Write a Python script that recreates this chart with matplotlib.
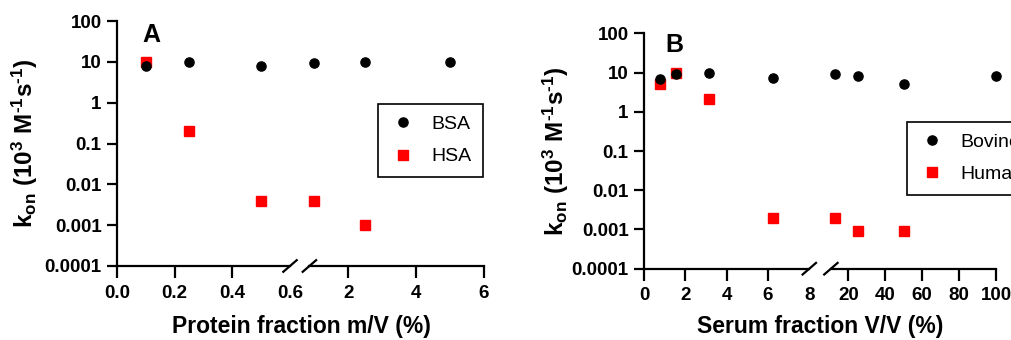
import matplotlib
matplotlib.use('Agg')
import matplotlib.pyplot as plt
from matplotlib.ticker import FixedLocator, FixedFormatter, NullLocator

plt.rcParams['font.family'] = ['Liberation Sans', 'DejaVu Sans']
plt.rcParams['mathtext.fontset'] = 'custom'
plt.rcParams['mathtext.rm'] = 'Liberation Sans:bold'
plt.rcParams['mathtext.bf'] = 'Liberation Sans:bold'
plt.rcParams['mathtext.it'] = 'Liberation Sans:bold'

# panel A: protein fraction m/V (%)
protein_x = [0.1, 0.25, 0.5, 1.0, 2.5, 5.0]
bsa = [8, 10, 8, 9.5, 10, 10]
hsa_x = [0.1, 0.25, 0.5, 1.0, 2.5]
hsa = [10, 0.2, 0.004, 0.004, 0.001]

# panel B: serum fraction V/V (%)
serum_x = [0.78, 1.56, 3.125, 6.25, 12.5, 25, 50, 100]
bovine = [7, 9, 10, 7.3, 9, 8, 5, 8]
human_x = [0.78, 1.56, 3.125, 6.25, 12.5, 25, 50]
human = [5, 10, 2.1, 0.002, 0.002, 0.0009, 0.0009]

y_ticks = [1e-4, 1e-3, 1e-2, 1e-1, 1, 10, 100]
y_labels = ['0.0001', '0.001', '0.01', '0.1', '1', '10', '100']

W, H = 1012, 340
fig = plt.figure(figsize=(W / 100, H / 100), dpi=100)


def px_axes(x0, x1, ytop, ybot):
    return fig.add_axes([x0 / W, (H - ybot) / H, (x1 - x0) / W, (ybot - ytop) / H])


def style(ax, first):
    ax.set_yscale('log')
    ax.set_ylim(1e-4, 100)
    for s in ['top', 'right']:
        ax.spines[s].set_visible(False)
    ax.spines['bottom'].set_linewidth(1.6)
    ax.spines['left'].set_linewidth(1.6)
    ax.tick_params(axis='x', length=8.5, width=1.6, pad=5, labelsize=13.5)
    ax.tick_params(axis='y', length=7, width=1.6, pad=4, labelsize=13.5)
    ax.yaxis.set_major_locator(FixedLocator(y_ticks))
    ax.yaxis.set_major_formatter(FixedFormatter(y_labels))
    ax.yaxis.set_minor_locator(NullLocator())
    for lab in ax.get_yticklabels():
        lab.set_fontweight('bold')
    if not first:
        ax.spines['left'].set_visible(False)
        ax.tick_params(axis='y', left=False, labelleft=False)
    ax.patch.set_alpha(0)


def slash(ax, xa):
    bb = ax.get_position()
    dx = 6.7 / (bb.width * W)
    dy = 5.8 / (bb.height * H)
    ax.plot([xa - dx, xa + dx], [-dy, dy], color='black', lw=1.6,
            transform=ax.transAxes, clip_on=False)


def scatter(ax, x, y, lo, hi, **kw):
    xs = [a for a, b in zip(x, y) if lo <= a <= hi]
    ys = [b for a, b in zip(x, y) if lo <= a <= hi]
    return ax.plot(xs, ys, ls='none', ms=6.6, clip_on=False, **kw)[0]


def panel(ax1, ax2, xlim1, xlim2, xt1, xl1, xt2, x1, y1, x2, y2, lab_x):
    for ax, lim in [(ax1, xlim1), (ax2, xlim2)]:
        style(ax, ax is ax1)
        ax.set_xlim(*lim)
    ax1.set_xticks(xt1)
    ax1.set_xticklabels(xl1)
    ax2.set_xticks(xt2)
    for lab in ax1.get_xticklabels() + ax2.get_xticklabels():
        lab.set_fontweight('bold')
    ax1.xaxis.get_major_ticks()[-1].tick1line.set_visible(False)
    h = []
    for ax, lim in [(ax1, xlim1), (ax2, xlim2)]:
        a = scatter(ax, x1, y1, *lim, marker='o', color='black', zorder=4)
        b = scatter(ax, x2, y2, *lim, marker='s', color='#ff0000', zorder=3)
        h = [a, b]
    slash(ax1, 1.0)
    slash(ax2, 0.0)
    ax1.set_ylabel(r'$\mathbf{k_{on}\ (10^{3}\ M^{\text{-}1}s^{\text{-}1})}$', fontsize=17.5)
    ax1.yaxis.set_label_coords(lab_x, 0.5)
    return h


ax_a1 = px_axes(117, 290, 21, 266)
ax_a2 = px_axes(309.4, 484, 21, 266)
ha = panel(ax_a1, ax_a2, (0, 0.6), (0.85, 6), [0, 0.2, 0.4, 0.6],
           ['0.0', '0.2', '0.4', '0.6'], [2, 4, 6],
           protein_x, bsa, hsa_x, hsa, -0.445)

ax_b1 = px_axes(644, 809.3, 33.3, 268.7)
ax_b2 = px_axes(830.9, 996, 33.3, 268.7)
hb = panel(ax_b1, ax_b2, (0, 8), (10.5, 100), [0, 2, 4, 6, 8],
           ['0', '2', '4', '6', '8'], [20, 40, 60, 80, 100],
           serum_x, bovine, human_x, human, -0.44)

leg_kw = dict(loc='upper left', bbox_transform=fig.transFigure, fontsize=14,
              frameon=True, fancybox=False, framealpha=1, edgecolor='black',
              borderpad=0.6, borderaxespad=0, handlelength=1.4, handletextpad=0.75,
              labelspacing=0.75)
la = fig.legend(ha, ['BSA', 'HSA'], bbox_to_anchor=(378 / W, 1 - 104 / H), **leg_kw)
lb = fig.legend(hb, ['Bovine', 'Human'], bbox_to_anchor=(907 / W, 1 - 121.7 / H), **leg_kw)
for lg in (la, lb):
    lg.get_frame().set_linewidth(1.2)

fig.text(151 / W, 1 - 34.7 / H, 'A', fontsize=18, fontweight='bold', ha='center', va='center')
fig.text(674.7 / W, 1 - 45 / H, 'B', fontsize=18, fontweight='bold', ha='center', va='center')
fig.text(301 / W, 1 - 327 / H, 'Protein fraction m/V (%)', fontsize=16.5, fontweight='bold',
         ha='center', va='center')
fig.text(820.5 / W, 1 - 327 / H, 'Serum fraction V/V (%)', fontsize=16.5, fontweight='bold',
         ha='center', va='center')

fig.savefig('out.png', dpi=100)
